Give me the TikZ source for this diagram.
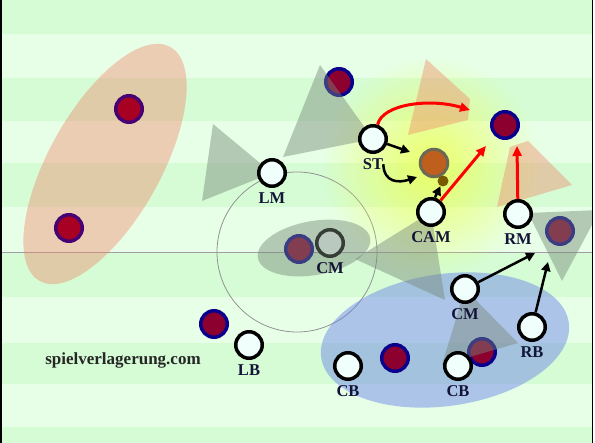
\documentclass[tikz,border=0pt]{standalone}
\usepackage{fontspec}
\setmainfont{Liberation Serif}
\usetikzlibrary{arrows.meta}
\usetikzlibrary{positioning}
\usetikzlibrary{fadings}

\definecolor{pitchdark}{RGB}{213,252,213}
\definecolor{pitchlight}{RGB}{231,255,231}
\definecolor{halfline}{RGB}{165,155,168}
\definecolor{oppfill}{RGB}{140,0,48}
\definecolor{oppring}{RGB}{10,0,140}
\definecolor{oppwarmfill}{RGB}{168,0,35}
\definecolor{oppwarmring}{RGB}{70,0,115}
\definecolor{plfill}{RGB}{240,255,252}
\definecolor{txtnavy}{RGB}{20,20,56}
\definecolor{shadegrey}{RGB}{120,136,120}
\definecolor{salmon}{RGB}{240,130,100}
\definecolor{zoneblue}{RGB}{100,125,235}
\definecolor{glow}{RGB}{236,255,80}
\definecolor{ballfill}{RGB}{190,95,30}
\definecolor{ballring}{RGB}{105,105,85}
\definecolor{loosecol}{RGB}{120,90,0}

\tikzfading[name=glowfade, inner color=transparent!0, outer color=transparent!100]

\tikzset{
  player/.style={circle, draw=black, fill=plfill, line width=3.5pt, minimum size=26.5pt, inner sep=0pt},
  opp/.style={circle, draw=oppring, fill=oppfill, line width=3.5pt, minimum size=26.5pt, inner sep=0pt},
  oppwarm/.style={opp, draw=oppwarmring, fill=oppwarmfill},
  roletag/.style={font=\fontsize{16.5}{16.5}\selectfont\bfseries, text=txtnavy, inner sep=0pt},
  shadezone/.style={fill=shadegrey, fill opacity=0.45},
  warmzone/.style={fill=salmon, fill opacity=0.4},
  run/.style={red, line width=3pt, -{Triangle[length=10pt,width=9pt]}},
  pass/.style={black, line width=2.5pt, -{Triangle[length=9pt,width=9pt]}},
}

\begin{document}
\begin{tikzpicture}[x=1pt,y=-1pt]
\useasboundingbox (0,0) rectangle (595,443);

\coordinate (lmpos) at (272,173);
\coordinate (stpos) at (373,139);
\coordinate (campos) at (431,212);
\coordinate (cmtpos) at (330,243);
\coordinate (rmpos) at (518,214);
\coordinate (cmbpos) at (465,289);
\coordinate (rbpos) at (532,327);
\coordinate (cblpos) at (348,366);
\coordinate (cbrpos) at (458,366);
\coordinate (lbpos) at (249,345);

\begin{scope}
\clip (0,0) rectangle (592,443);
\fill[pitchlight] (0,0) rectangle (592,443);
\foreach \ya/\yb in {0/34,78/121,163/207,252/297,343/384,427/443}
  \fill[pitchdark] (0,\ya) rectangle (592,\yb);
\draw[halfline, line width=0.8pt] (0,252) -- (592,252);
\draw[gray!85, line width=0.8pt] (297,252) circle (80);
\fill[glow, fill opacity=0.85, path fading=glowfade] (431,167) circle (110);
\fill[zoneblue, fill opacity=0.45, rotate around={8:(445,340)}] (445,340) ellipse (125 and 66);
\fill[warmzone, rotate around={60.8:(105,164)}] (105,164) ellipse (134 and 56);

\node[oppwarm] (o1) at (129,109) {};
\node[oppwarm] (o2) at (69,228) {};
\node[opp] (o3) at (339,82) {};
\node[opp] (o4) at (505,125) {};
\node[opp] (o5) at (560,231) {};
\node[opp] (o6) at (214,324) {};
\node[opp] (o7) at (299,249) {};
\node[opp] (o8) at (395,358) {};
\node[opp] (o9) at (482,352) {};

\fill[shadezone] (lmpos) -- (213,124) -- (202,201) -- cycle;
\fill[shadezone] (stpos) -- (320,65) -- (283,157) -- cycle;
\fill[shadezone] (campos) -- (355,259) -- (445,300) -- cycle;
\fill[shadezone] (cmbpos) -- (442,365) -- (518,343) -- cycle;
\fill[shadezone] (528,213) -- (600,210) -- (562,281) -- cycle;
\fill[warmzone] (426,59) -- (470,99) -- (468,120) -- (408,135) -- cycle;
\fill[warmzone] (510,147) -- (528,141) -- (572,185) -- (497,207) -- cycle;

\node[player] (lm) at (lmpos) {};
\node[player] (st) at (stpos) {};
\node[player] (cam) at (campos) {};
\node[player] (cmt) at (cmtpos) {};
\node[player] (rm) at (rmpos) {};
\node[player] (cmb) at (cmbpos) {};
\node[player] (rb) at (rbpos) {};
\node[player] (cbl) at (cblpos) {};
\node[player] (cbr) at (cbrpos) {};
\node[player] (lb) at (lbpos) {};
\node[circle, draw=ballring, fill=ballfill, line width=3pt, minimum size=27.5pt, inner sep=0pt] (ball) at (434,163) {};
\node[circle, fill=loosecol, minimum size=11pt, inner sep=0pt] (loose) at (443,181) {};

\fill[shadezone, rotate around={10:(314,248)}] (314,248) ellipse (57 and 27);

\node[roletag, below=4.5pt of lm] (lmlbl) {LM};
\node[roletag, below=4.5pt of st] (stlbl) {ST};
\node[roletag, below=4.5pt of cam] (camlbl) {CAM};
\node[roletag, below=4.5pt of cmt] (cmtlbl) {CM};
\node[roletag, below=4.5pt of rm] (rmlbl) {RM};
\node[roletag, below=4.5pt of cmb] (cmblbl) {CM};
\node[roletag, below=4.5pt of rb] (rblbl) {RB};
\node[roletag, below=4.5pt of cbl] (cbllbl) {CB};
\node[roletag, below=4.5pt of cbr] (cbrlbl) {CB};
\node[roletag, below=4.5pt of lb] (lblbl) {LB};
\node[font=\fontsize{17}{17}\selectfont\bfseries, text=black!85, inner sep=0pt] (site) at (123,360) {spielverlagerung.com};

\coordinate (stgo) at (470,110);
\coordinate (stpush) at (410,152);
\coordinate (stdrop) at (417,177);
\coordinate (camgo) at (486,146);
\coordinate (rmgo) at (517,146);
\coordinate (cmbgo) at (535,253);
\coordinate (rbgo) at (548,262);
\draw[run] (st.72) .. controls (382,104) and (430,98) .. (stgo);
\draw[run] (cam) -- (camgo);
\draw[run] (rm) -- (rmgo);
\draw[pass] (st) -- (stpush);
\draw[pass] (stlbl.east) .. controls (384,183) and (399,183) .. (stdrop);
\draw[pass] (cam.75) -- (loose);
\draw[pass] (cmb) -- (cmbgo);
\draw[pass] (rb) -- (rbgo);
\end{scope}

\fill[white] (592,0) rectangle (595,443);
\draw[black, line width=1.5pt] (0.75,0) -- (0.75,443);
\draw[black, line width=1.2pt] (592.4,0) -- (592.4,443);
\end{tikzpicture}
\end{document}
